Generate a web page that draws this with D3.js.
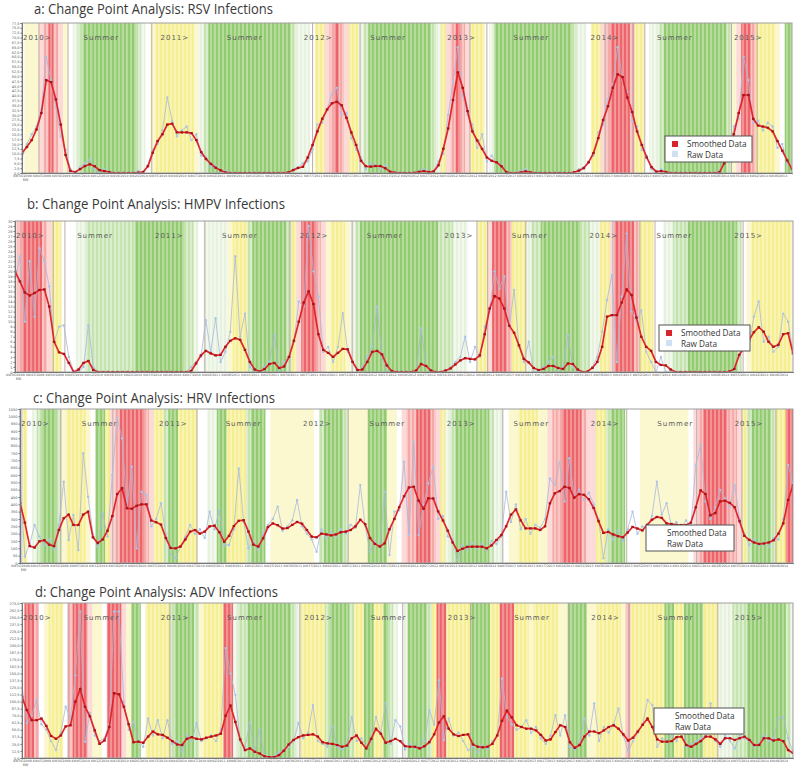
<!DOCTYPE html>
<html><head><meta charset="utf-8">
<script src="https://cdn.jsdelivr.net/npm/d3@7"></script>
<style>body{margin:0;background:#fff}svg{display:block}</style>
</head><body>
<svg id="chart" width="800" height="767"></svg>
<script>
// ---------------- DATA ----------------
const titles = [
  "a: Change Point Analysis: RSV Infections",
  "b: Change Point Analysis: HMPV Infections",
  "c: Change Point Analysis: HRV Infections",
  "d: Change Point Analysis: ADV Infections"
];
const legendLabels = ["Smoothed Data", "Raw Data"];
const seasonLabels = ["2010>","Summer","2011>","Summer","2012>","Summer","2013>","Summer","2014>","Summer","2015>"];
const seasonPos = [0, 12.7, 28.6, 42.3, 58.2, 71.9, 87.8, 101.5, 117.4, 131.1, 147];
const xTickLabels = ["KW36/2009","KW43/2009","KW50/2009","KW05/2010","KW12/2010","KW19/2010","KW26/2010","KW33/2010","KW40/2010","KW47/2010","KW02/2011","KW09/2011","KW16/2011","KW23/2011","KW30/2011","KW37/2011","KW44/2011","KW51/2011","KW06/2012","KW13/2012","KW20/2012","KW27/2012","KW34/2012","KW41/2012","KW48/2012","KW03/2013","KW10/2013","KW17/2013","KW24/2013","KW31/2013","KW38/2013","KW45/2013","KW52/2013","KW07/2014","KW14/2014","KW21/2014","KW28/2014","KW35/2014","KW42/2014","KW49/2014"];

const A_yTicks = [0,2.5,5,7.5,10,12.5,15,17.5,20,22.5,25,27.5,30,32.5,35,37.5,40,42.5,45,47.5,50,52.5,55,57.5,60,62.5,65,67.5,70,72.5,75,77.5];
const B_yTicks = [0,1,2,3,4,5,6,7,8,9,10,11,12,13,14,15,16,17,18,19,20,21,22,23,24,25,26,27,28,29,30];
const C_yTicks = [0,50,100,150,200,250,300,350,400,450,500,550,600,650,700,750,800,850,900,950,1000,1050];
const D_yTicks = [0,12.5,25,37.5,50,62.5,75,87.5,100,112.5,125,137.5,150,162.5,175,187.5,200,212.5,225,237.5,250,262.5,275];

const A_smoothed = [10.5,13.4,17,22.5,31,48,47,38,25,9.3,
 1,0.5,2,3.6,4.5,3.5,1.5,1,0.5,0,
 0,0,0,0,0.2,0.5,3.5,10.5,16.5,20,
 25,25.5,21,21,21,20.6,17,10.8,7.2,4.7,
 2.7,1.4,0.3,0,0,0,0,0,0,0,
 0,0,0,0,0,0.3,1.5,2.6,3.2,8,
 14.5,21.5,28,32.8,36,36.8,35,28.5,21,14.5,
 6.3,3.5,3.3,3.6,3.6,2.5,0.7,0.2,0,0,
 0,0.1,0.6,1,0.5,0.8,4,12.5,23,37.7,
 52,44,32,21.5,16.8,12.5,8,6.3,5.5,3.5,
 0.5,0,0,0.3,0.8,0.3,0,0,0,0,
 0,0,0,0,0.4,1.2,2.5,5.5,10.3,18,
 27.4,34.5,44,51,49.6,39,31.5,21.5,14.5,8,
 3,0.7,1,0.5,0,0,0,0,0,0,
 0,0,0,0,0.3,5,11,20,31,40.3,
 40.3,28,24.5,24,23.4,21.5,16.5,11.5,6.5,2];
const A_raw = [7.7,15,20,24,33,60,48,34,19,12,
 2,0,3,5,7,2,0,2,0,0,
 0,0,0,0,1,0,4,12,15,22,
 39,27,19,22,24,17,20,9,8,3,
 4,0,1,0,0,0,0,0,0,0,
 0,0,0,0,0,0,2,3,5,6,
 12,25,26,33,41,44,30,31,18,12,
 8,2,5,4,2,4,0,0,0,0,
 0,0,1,2,0,1,6,10,30,47,
 65,40,30,25,13,20,6,9,5,4,
 0,0,0,1,2,0,0,0,0,0,
 0,0,0,0,0,2,3,6,9,21,
 25,38,46,65,48,42,27,24,12,9,
 2,0,2,0,0,0,0,0,0,0,
 0,0,0,0,1,6,10,24,28,60,
 48,26,27,22,26,24,13,15,5,3];

const B_smoothed = [20,18,15.8,15.2,15.7,16.3,16.4,13,6,3.9,
 3.6,1.8,0,0.5,1.8,2.2,0.4,0,0,0,
 0,0,0,0,0,0,0,0,0,0,
 0,0,0,0,0,0,0.2,1.7,3.3,4.2,
 3.7,3.3,3.4,5,6.2,6.7,6.4,4.4,2,0.5,
 0.1,0.6,1.6,1.8,0.8,1.1,3,6.2,10,13.8,
 16,13.5,7.5,4.4,3.8,3,3.8,4.6,4.5,2,
 0.4,0.5,2,4,4.2,3.5,1.3,0.2,0,0,
 0,0,0.3,1.6,1.2,0.3,0,0,0.3,0.7,
 1.5,2.3,2.75,2.6,2.5,3.3,7.5,12.6,15.1,14.6,
 12.6,9.2,7.8,5.3,2.6,1.9,0.8,0.4,0.6,1.2,
 1.2,0.8,0.6,1.7,1.6,0.5,0,0.1,0.8,2,
 5,11,11.3,11.3,13.8,16.4,15.3,10.8,7,5,
 4.2,2,1.4,1.3,0.5,0,0,0,0,0,
 0,0,0,0,0,0,0.1,0.6,3.4,4.8,
 6.3,7.9,8.9,8,6,5,5.4,7.5,7.7,3.7];
const B_raw = [18,23,10,22,11,24.6,22,17,6,9,
 9.3,3,0,0,1,9.3,1,0,0,0,
 0,0,0,0,0,0,0,0,0,0,
 0,0,0,0,0,0,1,2,3,10.3,
 4,10.7,2,4,8,23,7,11.6,1,0,
 0,1,2,7.4,0,2,3,6,14,13,
 29,20,15,4,5,2,5,11.7,4,2,
 0,1,3,5,13,3,0,0,0,0,
 0,0,0,8.7,1,0,0,0,0,1,
 2,3,7,2,5,3,9,12,20,16.6,
 19,9,16.3,5,2,6,0,0,1,2,
 3,0,1,7.4,1,0,0,0,1,3,
 8,14.3,19.3,2,15,27.5,12,10,12.3,4,
 2,0,3,0,0,0,0,0,0,0,
 0,0,0,0,0,0,0,1,3,5,
 5,11,14,6,7,4,5,11.6,10,4];

const C_smoothed = [410,275,115,105,148,155,125,115,225,305,
 330,259,259,330,350,175,136,160,220,320,
 470,510,373,370,390,400,400,290,278,262,
 170,102,100,112,160,214,225,200,214,250,
 255,210,145,185,252,288,292,214,125,112,
 168,245,270,258,235,238,260,280,268,225,
 180,175,200,195,188,195,210,214,225,250,
 295,265,170,130,112,134,230,300,380,455,
 515,520,425,370,441,440,352,290,220,140,
 82,97,110,111,111,111,100,120,157,190,
 250,330,365,290,236,236,236,225,250,407,
 475,490,520,512,445,470,465,435,375,285,
 205,212,195,183,175,208,246,235,222,260,
 295,314,308,270,266,260,259,259,275,380,
 495,470,325,340,420,425,410,380,285,185,
 158,140,130,133,140,155,200,270,430,530];
const C_raw = [555,43,130,259,180,120,160,90,260,555,
 157,327,89,748,452,200,110,339,180,600,
 986,850,380,657,100,486,464,250,300,407,
 200,55,32,110,180,260,200,230,170,350,
 230,361,120,123,230,645,280,100,150,90,
 200,260,300,384,220,250,290,430,250,200,
 160,77,230,170,210,180,230,200,260,240,
 532,250,77,150,110,486,55,350,360,691,
 191,827,191,400,543,657,300,320,180,160,
 20,120,90,140,100,130,90,150,130,180,
 486,280,400,230,300,200,260,240,300,577,
 532,691,420,714,450,500,430,480,400,300,
 32,230,160,220,150,230,350,200,250,240,
 320,555,330,407,250,280,240,290,250,668,
 805,420,300,380,498,440,380,532,300,200,
 123,160,120,140,110,170,160,300,668,540];

const D_smoothed = [108,85,67,67,70,57,39,34,40,56,
 58,100,122,91,74,49,25,31,55,115,
 113,91,60,28,29,27,38,47,42,41,
 36,30,24,23,34,37,34,33,36,38,
 40,43,75,93,64,33,14,17,11,8,
 3,1.5,1.5,5,13,24,32,37,40,41,
 42,38,28,26,25,23,20,22,35,40,
 27,17,34,52,43,27,30,34,30,21,
 20,20,17,21,28,42,63,74,52,42,
 39,41,42,24,20,19,20,25,40,66,
 84,72,58,55,52,52,49,41,31,33,
 46,58,55,28,18,23,38,47,47,44,
 49,55,58,52,42,31,36,47,59,70,
 55,33,29,29,30,37,38,23,20,25,
 30,38,38,33,25,35,35,32,35,38,
 32,23,23,35,35,31,33,30,14,9];
const D_raw = [130,62,75,103,60,50,30,14,45,91,
 70,147,260,29,80,40,30,35,60,260,
 260,100,50,64,30,20,70,40,67,35,
 67,25,30,11,40,30,62,30,35,40,
 30,50,195,150,112,30,20,62,10,50,
 5,0,3,10,15,20,30,62,35,45,
 94,30,25,20,56,20,15,25,73,30,
 35,20,30,73,45,97,25,67,56,15,
 25,18,20,30,85,59,138,32,70,40,
 45,30,14,20,10,22,15,30,40,141,
 73,60,50,55,67,45,55,35,25,40,
 76,40,76,20,15,30,70,40,97,30,
 55,45,60,88,40,11,30,45,60,103,
 94,20,35,30,40,30,67,20,25,30,
 35,40,97,30,20,40,30,17,40,35,
 30,20,25,40,30,35,70,73,35,10];

// change-point phases per data slot (run-length: code + count)
// R red, r pink-red, p light pink, Y yellow, y pale yellow, w white, h faint green, g light green, G green, l lavender
const A_phases = "w1 y3 p1 r1 R1 r1 p1 y1 w1 h1 g1 G11 g1 h1 w1 y1 Y8 y1 h1 g1 G17 g1 h3 w1 Y2 p1 r1 R1 r1 p1 Y2 h1 g1 G13 g1 h1 Y1 p1 r1 R1 r1 p1 Y3 w1 h1 G16 g1 h2 w1 Y2 p1 r1 R4 r1 Y2 w1 h2 g1 G13 g1 y1 p1 R2 r1 Y4 y1 w1 G2";
const B_phases = "p1 r1 R4 r1 p1 Y2 w3 h2 g10 G10 g2 h1 w1 h5 y1 Y3 g1 G7 g1 Y1 p1 R3 r1 p1 y1 Y3 y1 h1 g1 G16 g3 h3 w2 Y2 p1 R3 r1 Y3 h1 g2 G8 g2 h2 Y2 p1 R4 r1 Y3 w2 h2 g3 G10 g1 w1 y1 Y8 y1";
const C_phases = "l1 Y1 w1 h1 g1 G3 g1 y1 Y4 y1 w1 G2 Y1 p1 r1 R5 r1 p1 Y2 g1 G2 Y4 w2 h2 G2 Y4 g1 G3 w1 y9 w1 g1 G4 g1 y4 G4 y2 w1 p1 r2 R3 r1 p1 Y1 h1 g1 G7 g1 h2 w1 y2 Y4 y2 p1 r2 R4 r1 p2 Y2 g1 G3 w3 y10 w1 p1 r1 R5 r2 p1 Y1 g1 G4 g1 Y2 R2";
const D_phases = "w1 R2 r1 w1 y1 Y3 w1 r1 R3 p1 y2 w1 R3 p1 y1 G2 w1 Y5 g1 G4 g1 y1 Y4 R2 h1 g2 G9 g1 h1 Y5 g1 G4 g1 Y2 G2 Y2 G1 g1 h1 w1 h1 G4 g1 Y1 R2 Y5 G4 Y2 R3 Y3 y1 Y5 y2 G4 y2 Y5 y1 r1 Y7 G2 Y2 G4 Y3 h3 g3 G8 g1 h1";

const A_changes = [3.5, 9.5, 26.8, 60, 69.8, 92.5, 96, 120.4, 126.2, 128.6, 146.5, 151.8];
const B_changes = [7.8, 10.2, 38.8, 56.2, 68.9, 94.4, 96.6, 104.4, 122.2, 127.7, 130.8, 148.8];
const C_changes = [8.4, 19.1, 36.4, 67.5, 99.3, 124.8, 139.2, 148.5, 155.5];
const D_changes = [9.5, 30.5, 57.3, 78.5, 92.5, 112.8, 125.2, 143.5];

// ---------------- LAYOUT / STYLE ----------------
const panels = [
  {title: titles[0], smoothed: A_smoothed, raw: A_raw, phases: A_phases, changes: A_changes, yTicks: A_yTicks, dec: 1,
   box: {l: 22, r: 792, t: 23, b: 173}, tt: {x: 34, y: 13.5, w: 239},
   lg: {x: 665, y: 136, w: 87, h: 26, mk: true, tx: 687}},
  {title: titles[1], smoothed: B_smoothed, raw: B_raw, phases: B_phases, changes: B_changes, yTicks: B_yTicks, dec: 0,
   box: {l: 15, r: 793, t: 221, b: 372}, tt: {x: 27, y: 208.5, w: 258},
   lg: {x: 659, y: 325, w: 91, h: 26, mk: true, tx: 681}},
  {title: titles[2], smoothed: C_smoothed, raw: C_raw, phases: C_phases, changes: C_changes, yTicks: C_yTicks, dec: 0,
   box: {l: 20, r: 793, t: 409, b: 563}, tt: {x: 33, y: 403, w: 242},
   lg: {x: 646, y: 525, w: 88, h: 26, mk: false, tx: 667}},
  {title: titles[3], smoothed: D_smoothed, raw: D_raw, phases: D_phases, changes: D_changes, yTicks: D_yTicks, dec: 1,
   box: {l: 22, r: 793, t: 603, b: 758}, tt: {x: 35, y: 597, w: 243},
   lg: {x: 654, y: 708, w: 90, h: 26, mk: false, tx: 675}}
];

const palette = {
  w: ['#ffffff'], y: ['#fbf8d0'], Y: ['#f5ef92', '#f9f4b4'], p: ['#fbdad8'],
  r: ['#f6a8a8', '#f9c6c4'], R: ['#ed646a', '#f29496'], h: ['#e7f2de', '#f2f8ed'],
  g: ['#c4e3ae', '#daeecd'], G: ['#92cb71', '#b6dc9c'], l: ['#cbcae6']
};

const svg = d3.select('#chart');
const defs = svg.append('defs');
Object.entries(palette).forEach(([k, cols]) => {
  if (cols.length === 2) {
    const p = defs.append('pattern').attr('id', 'pat-' + k)
      .attr('patternUnits', 'userSpaceOnUse').attr('width', 4).attr('height', 20);
    p.append('rect').attr('width', 4).attr('height', 20).attr('fill', cols[1]);
    p.append('rect').attr('width', 2).attr('height', 20).attr('fill', cols[0]);
  }
});
const fillFor = k => palette[k].length === 2 ? `url(#pat-${k})` : palette[k][0];

function decode(s) {
  const out = [];
  s.trim().split(/\s+/).forEach(t => { const c = t[0], n = +t.slice(1); for (let j = 0; j < n; j++) out.push(c); });
  return out;
}

panels.forEach((P, pi) => {
  const n = P.smoothed.length;
  const phases = decode(P.phases);
  if (P.raw.length !== n || phases.length !== n) throw new Error(`panel ${pi}: lengths ${n} ${P.raw.length} ${phases.length}`);
  const B = P.box;
  const yMax = P.yTicks[P.yTicks.length - 1];
  const x = d3.scaleLinear().domain([0, n - 1]).range([B.l, B.r]);
  const y = d3.scaleLinear().domain([0, yMax]).range([B.b, B.t]);
  const step = x(1) - x(0);

  const g = svg.append('g');
  const clipId = 'clip' + pi;
  defs.append('clipPath').attr('id', clipId).append('rect')
    .attr('x', B.l).attr('y', B.t).attr('width', B.r - B.l).attr('height', B.b - B.t);
  const inner = g.append('g').attr('clip-path', `url(#${clipId})`);

  inner.selectAll('rect.ph').data(phases).join('rect').attr('class', 'ph')
    .attr('x', (d, i) => x(i) - step / 2).attr('y', B.t)
    .attr('width', step + 0.4).attr('height', B.b - B.t)
    .attr('fill', d => fillFor(d));

  inner.selectAll('line.cp').data(P.changes).join('line').attr('class', 'cp')
    .attr('x1', d => x(d)).attr('x2', d => x(d)).attr('y1', B.t).attr('y2', B.b)
    .attr('stroke', '#b7a3a3').attr('stroke-width', 0.9);

  inner.selectAll('text.season').data(seasonLabels).join('text').attr('class', 'season')
    .attr('x', (d, i) => Math.max(B.l + 1, x(seasonPos[i]))).attr('y', B.t + 17)
    .attr('font-family', 'DejaVu Sans, sans-serif').attr('font-size', 7)
    .attr('letter-spacing', 1).attr('fill', '#5a5a5a').text(d => d);

  const line = d3.line().x((d, i) => x(i)).y(d => y(d));
  inner.append('path').datum(P.raw).attr('d', line)
    .attr('fill', 'none').attr('stroke', '#aab8dc').attr('stroke-width', 0.8);
  inner.selectAll('circle.raw').data(P.raw).join('circle').attr('class', 'raw')
    .attr('cx', (d, i) => x(i)).attr('cy', d => y(d)).attr('r', 1.2)
    .attr('fill', '#a9c6e8');

  inner.append('path').datum(P.smoothed).attr('d', line)
    .attr('fill', 'none').attr('stroke', '#e0252b').attr('stroke-width', 1.7);
  inner.selectAll('rect.sm').data(P.smoothed).join('rect').attr('class', 'sm')
    .attr('x', (d, i) => x(i) - 1.3).attr('y', d => y(d) - 1.1)
    .attr('width', 2.6).attr('height', 2.2).attr('fill', '#a8141a');

  g.append('rect').attr('x', B.l).attr('y', B.t).attr('width', B.r - B.l).attr('height', B.b - B.t)
    .attr('fill', 'none').attr('stroke', '#a0a0a0').attr('stroke-width', 1);

  const fmt = v => d3.format(P.dec ? '.1f' : 'd')(v).replace('.', ',');
  const ya = g.append('g').attr('transform', `translate(${B.l},0)`)
    .call(d3.axisLeft(y).tickValues(P.yTicks).tickSize(1.5).tickPadding(1).tickFormat(fmt));
  ya.selectAll('text').attr('font-size', 3.5).attr('fill', '#555').attr('font-family', 'DejaVu Sans, sans-serif');
  ya.selectAll('line').attr('stroke', '#777');
  ya.select('.domain').attr('stroke', '#777');

  const xa = g.append('g').attr('transform', `translate(0,${B.b})`)
    .call(d3.axisBottom(x).tickValues(xTickLabels.map((d, k) => k * 4)).tickSize(1.2).tickPadding(0.6)
      .tickFormat((d, k) => xTickLabels[k]));
  xa.selectAll('text').attr('font-size', 3.2).attr('fill', '#555').attr('font-family', 'DejaVu Sans, sans-serif');
  xa.selectAll('line').attr('stroke', '#777');
  xa.select('.domain').attr('stroke', '#777');
  g.append('text').attr('x', B.l + 1).attr('y', B.b + 8.2).attr('font-size', 3.4)
    .attr('fill', '#555').attr('font-family', 'DejaVu Sans, sans-serif').text('KW');

  svg.append('text').attr('x', P.tt.x).attr('y', P.tt.y)
    .attr('font-family', 'Open Sans, sans-serif').attr('font-size', 14).attr('fill', '#3a3a3a')
    .attr('textLength', P.tt.w).attr('lengthAdjust', 'spacingAndGlyphs').text(P.title);

  const L = P.lg;
  const lg = svg.append('g');
  lg.append('rect').attr('x', L.x).attr('y', L.y).attr('width', L.w).attr('height', L.h)
    .attr('fill', '#fff').attr('stroke', '#555').attr('stroke-width', 1);
  if (L.mk) {
    lg.append('rect').attr('x', L.x + 7).attr('y', L.y + 5).attr('width', 6).attr('height', 6).attr('fill', '#d6262b');
    lg.append('rect').attr('x', L.x + 7).attr('y', L.y + 15).attr('width', 6).attr('height', 6).attr('fill', '#cfe0f2');
  }
  legendLabels.forEach((t, k) => {
    lg.append('text').attr('x', L.tx).attr('y', L.y + 11 + k * 11.3)
      .attr('font-family', 'Open Sans, sans-serif').attr('font-size', 8.2).attr('fill', '#333').text(t);
  });
});
</script>
</body></html>
